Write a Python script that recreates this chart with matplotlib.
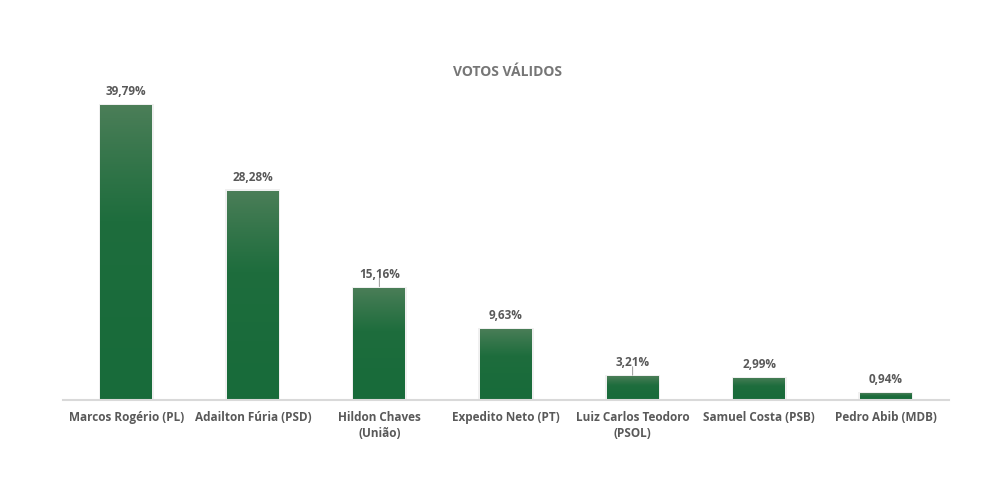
import matplotlib
matplotlib.use('Agg')
import matplotlib.pyplot as plt
import numpy as np
from matplotlib.colors import LinearSegmentedColormap

candidates = ['Marcos Rogério (PL)', 'Adailton Fúria (PSD)', 'Hildon Chaves\n(União)',
              'Expedito Neto (PT)', 'Luiz Carlos Teodoro\n(PSOL)', 'Samuel Costa (PSB)',
              'Pedro Abib (MDB)']
votes = [39.79, 28.28, 15.16, 9.63, 3.21, 2.99, 0.94]
labels = ['39,79%', '28,28%', '15,16%', '9,63%', '3,21%', '2,99%', '0,94%']

plt.rcParams['font.family'] = ['Open Sans', 'DejaVu Sans']
text_grey = '#595959'

fig = plt.figure(figsize=(10.02, 4.82), dpi=100)
ax = fig.add_axes([63/1002, 82/482, 886/1002, 300/482])

x = np.arange(len(votes))
bars = ax.bar(x, votes, width=0.41, color='#1d6b3c', zorder=2)

# vertical gradient in each bar (light on top, dark lower down)
cmap = LinearSegmentedColormap.from_list('g', ['#186b3a', '#1e6d3d', '#4b7e58'])
grad = np.linspace(0, 1, 256).reshape(-1, 1)
for b in bars:
    x0, y0 = b.get_x(), b.get_y()
    w, h = b.get_width(), b.get_height()
    # soft shadow around the bar
    ax.bar(x0 + w / 2, h + 0.15, width=w + 0.025, color='#000000', alpha=0.06, zorder=1)
    im = ax.imshow(grad ** 1.4, extent=[x0, x0 + w, y0, y0 + h], origin='lower',
                   cmap=cmap, aspect='auto', zorder=3)
    im.set_clip_path(b)
    b.set_alpha(0)

ax.set_xlim(-0.5, len(votes) - 0.5)
ax.set_ylim(0, 40.5)

for i, (v, lab) in enumerate(zip(votes, labels)):
    ax.annotate(lab, (i, v), xytext=(0, 5), textcoords='offset points',
                ha='center', va='bottom', fontsize=8.5, fontweight='bold', color=text_grey)

# small leader lines
for i in (2, 4):
    ax.annotate('', (i, votes[i] + 0.15), xytext=(0, 6), textcoords='offset points',
                arrowprops=dict(arrowstyle='-', color='#a6a6a6', lw=0.8,
                                shrinkA=0, shrinkB=0))

for s in ['top', 'right', 'left']:
    ax.spines[s].set_visible(False)
ax.spines['bottom'].set_color('#d9d9d9')
ax.spines['bottom'].set_linewidth(1.5)
ax.spines['bottom'].set_zorder(4)
ax.set_yticks([])
ax.set_xticks(x)
ax.set_xticklabels(candidates, fontsize=8.5, fontweight='bold', color=text_grey, linespacing=1.3)
ax.tick_params(axis='x', length=0, pad=8)

fig.text(507/1002, 1 - 72/482, 'VOTOS VÁLIDOS', ha='center', va='center',
         fontsize=10, fontweight='bold', color='#767676')

fig.savefig('out.png', dpi=100)
